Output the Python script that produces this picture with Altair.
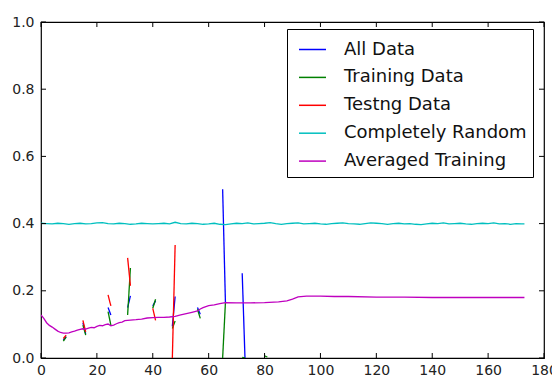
import altair as alt
import pandas as pd

# ---- data ----
series_names = ["All Data", "Training Data", "Testng Data", "Completely Random", "Averaged Training"]
series_colors = ["#0000ff", "#008000", "#ff0000", "#00bfbf", "#bf00bf"]

# short broken pieces: (segment id, x values, y values)
all_data_segs = [
    ("a1", [8, 9], [0.053, 0.064]),
    ("a2", [15, 16], [0.105, 0.072]),
    ("a3", [24, 25], [0.150, 0.128]),
    ("a4", [31, 32], [0.150, 0.185]),
    ("a5", [40, 41], [0.155, 0.170]),
    ("a6", [47, 48], [0.094, 0.183]),
    ("a7", [56, 57], [0.150, 0.130]),
    ("a8", [65, 66], [0.502, 0.165]),
    ("a9", [72, 73], [0.252, 0.000]),
]
training_segs = [
    ("t1", [8, 9], [0.050, 0.062]),
    ("t2", [15, 16], [0.098, 0.068]),
    ("t3", [24, 25], [0.138, 0.098]),
    ("t4", [31, 32], [0.128, 0.268]),
    ("t5", [40, 41], [0.148, 0.175]),
    ("t6", [47, 48], [0.088, 0.110]),
    ("t7", [56, 57], [0.145, 0.118]),
    ("t8", [65, 66], [0.000, 0.165]),
    ("t9", [72, 73], [0.002, 0.000]),
    ("t10", [80, 81], [0.006, 0.003]),
]
testing_segs = [
    ("s1", [8, 9], [0.058, 0.068]),
    ("s2", [15, 16], [0.112, 0.078]),
    ("s3", [24, 25], [0.188, 0.155]),
    ("s4", [31, 32], [0.298, 0.215]),
    ("s5", [40, 41], [0.148, 0.112]),
    ("s6", [47, 48], [0.000, 0.336]),
]

random_x = list(range(0, 174, 2)) + [173]
random_y = [0.401, 0.400, 0.399, 0.401, 0.400, 0.398, 0.400, 0.401, 0.399, 0.400,
            0.402, 0.403, 0.400, 0.399, 0.401, 0.400, 0.398, 0.399, 0.401, 0.400,
            0.399, 0.400, 0.401, 0.399, 0.404, 0.400, 0.399, 0.401, 0.400, 0.398,
            0.399, 0.401, 0.398, 0.397, 0.399, 0.401, 0.400, 0.402, 0.399, 0.400,
            0.401, 0.403, 0.400, 0.398, 0.400, 0.401, 0.402, 0.399, 0.400, 0.401,
            0.399, 0.398, 0.400, 0.401, 0.402, 0.400, 0.399, 0.398, 0.400, 0.402,
            0.401, 0.400, 0.398, 0.400, 0.401, 0.399, 0.400, 0.398, 0.397, 0.399,
            0.401, 0.400, 0.402, 0.399, 0.400, 0.401, 0.399, 0.398, 0.400, 0.401,
            0.400, 0.402, 0.399, 0.400, 0.398, 0.400, 0.399,
            0.399]

avg_x = [0, 1, 2, 3, 4, 5, 6, 7, 8, 9, 10, 11, 12, 13, 14, 15, 16, 17, 18, 19,
         20, 21, 22, 23, 24, 25, 26, 27, 28, 29, 30, 32, 34, 36, 38, 40, 42, 44, 46, 48,
         50, 52, 54, 56, 57, 58, 60, 62, 64, 66, 70, 75, 80, 85, 88, 90, 92, 95, 100, 105,
         110, 120, 130, 140, 150, 160, 173]
avg_y = [0.128, 0.118, 0.105, 0.097, 0.092, 0.086, 0.080, 0.076, 0.074, 0.074,
         0.075, 0.078, 0.080, 0.083, 0.085, 0.087, 0.086, 0.089, 0.091, 0.090,
         0.094, 0.097, 0.096, 0.099, 0.101, 0.096, 0.098, 0.102, 0.105, 0.107,
         0.111, 0.113, 0.114, 0.116, 0.119, 0.120, 0.121, 0.121, 0.122, 0.124,
         0.128, 0.132, 0.136, 0.140, 0.146, 0.150, 0.156, 0.158, 0.162, 0.165,
         0.164, 0.164, 0.165, 0.167, 0.170, 0.175, 0.182, 0.184, 0.184, 0.183,
         0.183, 0.181, 0.181, 0.180, 0.180, 0.180, 0.180]

x_ticks = [0, 20, 40, 60, 80, 100, 120, 140, 160, 180]
y_ticks = [0.0, 0.2, 0.4, 0.6, 0.8, 1.0]

# ---- build table ----
rows = []
for name, segs in [("All Data", all_data_segs), ("Training Data", training_segs),
                   ("Testng Data", testing_segs)]:
    for sid, xs, ys in segs:
        for xv, yv in zip(xs, ys):
            rows.append({"x": xv, "y": yv, "series": name, "seg": sid})
for xv, yv in zip(random_x, random_y):
    rows.append({"x": xv, "y": yv, "series": "Completely Random", "seg": "r"})
for xv, yv in zip(avg_x, avg_y):
    rows.append({"x": xv, "y": yv, "series": "Averaged Training", "seg": "m"})
df = pd.DataFrame(rows)

W, H = 503, 336
FONT = "DejaVu Sans"

xscale = alt.Scale(domain=[0, 180], nice=False, zero=False)
yscale = alt.Scale(domain=[0, 1], nice=False, zero=False)

xaxis = alt.Axis(values=x_ticks, format="d", tickSize=0, domain=False, grid=False,
                 labelFont=FONT, labelFontSize=14, labelColor="#222222", labelPadding=5,
                 title=None, labelFlush=False)
yaxis = alt.Axis(values=y_ticks, format=".1f", tickSize=0, domain=False, grid=False,
                 labelFont=FONT, labelFontSize=14, labelColor="#222222", labelPadding=7,
                 title=None)

lines = alt.Chart(df).mark_line(strokeWidth=1.3, clip=True).encode(
    x=alt.X("x:Q", scale=xscale, axis=xaxis),
    y=alt.Y("y:Q", scale=yscale, axis=yaxis),
    color=alt.Color("series:N",
                    scale=alt.Scale(domain=series_names, range=series_colors),
                    sort=series_names,
                    legend=alt.Legend(title=None, orient="none", legendX=246, legendY=7,
                                      strokeColor="black", fillColor="white", padding=6,
                                      symbolType="stroke", symbolSize=729,
                                      symbolStrokeWidth=1.5, labelFont=FONT,
                                      labelFontSize=18, labelColor="#111111",
                                      labelOffset=17, rowPadding=3.9, labelLimit=0,
                                      symbolOffset=5, cornerRadius=0)),
    detail="seg:N",
    order="x:Q",
)

xt = pd.DataFrame({"v": x_ticks})
yt = pd.DataFrame({"v": y_ticks})
TL = 5
tick_style = dict(color="black", strokeWidth=1)
bx = alt.Chart(xt).mark_rule(**tick_style).encode(
    x=alt.X("v:Q", scale=xscale), y=alt.value(H), y2=alt.value(H - TL))
tx = alt.Chart(xt).mark_rule(**tick_style).encode(
    x=alt.X("v:Q", scale=xscale), y=alt.value(0), y2=alt.value(TL))
ly = alt.Chart(yt).mark_rule(**tick_style).encode(
    y=alt.Y("v:Q", scale=yscale), x=alt.value(0), x2=alt.value(TL))
ry = alt.Chart(yt).mark_rule(**tick_style).encode(
    y=alt.Y("v:Q", scale=yscale), x=alt.value(W), x2=alt.value(W - TL))

chart = alt.layer(lines, bx, tx, ly, ry).properties(
    width=W, height=H,
    autosize=alt.AutoSizeParams(type="none"),
    padding={"left": 41, "top": 22, "right": 8, "bottom": 18},
    background="white",
).configure_view(stroke="black", strokeWidth=1.2)

chart.save("out.html", embed_options={"renderer": "svg", "actions": False})
